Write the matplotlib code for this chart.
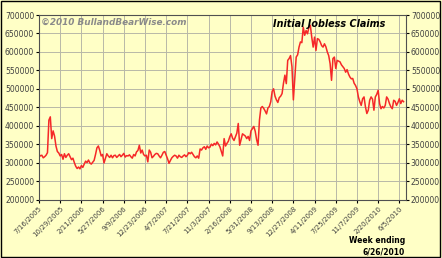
import matplotlib
matplotlib.use("Agg")
import matplotlib.pyplot as plt
import numpy as np

# weekly initial claims, week ending 7/16/2005 .. 6/26/2010
claims = [
    322, 318, 320, 313, 316, 320, 327,
    415, 424, 365, 386, 372, 345, 330, 326,
    318, 322, 309, 324, 314, 320, 324, 316, 308, 312, 300,
    290, 284, 288, 283, 292, 287,
    296, 304, 300, 307, 299, 296, 301, 306,
    322, 340, 345, 333, 318, 322, 299,
    312, 324, 318, 314, 320, 313, 319,
    320, 314, 318, 322, 316, 320, 325, 315, 319,
    318, 321, 316, 312, 322, 318, 329, 333,
    347, 326, 334, 322, 318, 320, 302, 334, 328, 313,
    317, 322, 325, 324, 318, 313, 320, 328, 330, 320,
    310, 298, 306, 313, 317, 320, 318, 312, 320, 316,
    314, 318, 321, 316, 320, 327, 324, 328, 322, 316,
    313, 318, 312, 337, 334, 340, 343, 336, 345, 340,
    342, 350, 346, 352, 348, 356, 350, 343, 330, 318,
    365, 345, 352, 358, 370, 378, 366, 360, 370, 380,
    406, 347, 362, 378, 375, 372, 365, 371, 360, 386,
    392, 398, 385, 362, 347, 415, 448, 452, 447, 440,
    432, 448, 452, 465, 493, 500, 480, 470, 463, 476,
    480, 487, 515, 537, 514, 577, 582, 590, 560, 470,
    530, 586, 592, 613, 627, 625, 667, 645, 658, 649,
    667, 672, 640, 613, 640, 604, 636, 634, 627, 617,
    613, 622, 614, 600, 590, 568, 523, 582, 586, 555,
    577, 575, 573, 565, 560, 555, 545, 552, 540, 532,
    527, 528, 515, 509, 500, 478, 465, 455, 473, 478,
    451, 433, 442, 469, 478, 472, 442, 478, 485, 496,
    460, 446, 452, 448, 455, 478, 472, 460, 451, 446,
    469, 466, 455, 463, 473, 460, 469, 465,
]
tick_labels = ["7/16/2005", "10/29/2005", "2/11/2006", "5/27/2006", "9/9/2006",
               "12/23/2006", "4/7/2007", "7/21/2007", "11/3/2007", "2/16/2008",
               "5/31/2008", "9/13/2008", "12/27/2008", "4/11/2009", "7/25/2009",
               "11/7/2009", "2/20/2010", "6/5/2010"]
tick_every = 15

bg = "#FFFFC6"
fig = plt.figure(figsize=(4.42, 2.58), dpi=100, facecolor=bg)
ax = fig.add_axes([39/442, 1 - 199.5/258, 367/442, 184.5/258])
ax.set_facecolor(bg)

weeks = np.arange(len(claims))
vals = np.array(claims) * 1000
ax.plot(weeks, vals, color="#F52828", lw=1.1)

ax.set_xlim(0, 259.7)
ax.set_ylim(200000, 700000)
ax.set_yticks(np.arange(200000, 700001, 50000))
ax.set_xticks(np.arange(len(tick_labels)) * tick_every)
ax.set_xticklabels(tick_labels, rotation=45, ha="right", rotation_mode="anchor",
                   fontsize=5, color="#404040")
ax.tick_params(axis="y", labelsize=5.5, labelcolor="#404040", length=2.5, pad=1,
               right=True, labelright=True)
ax.tick_params(axis="x", length=2.5, pad=1.5)
ax.grid(True, color="#B8B8A8", lw=0.7)
for s in ax.spines.values():
    s.set_color("#505050")
    s.set_linewidth(0.8)

ax.text(0.005, 0.985, "\u00a92010 BullandBearWise.com", transform=ax.transAxes,
        fontsize=6.4, fontweight="bold", style="italic", color="#8A8A8A",
        ha="left", va="top")
ax.text(0.943, 0.98, "Initial Jobless Claims", transform=ax.transAxes,
        fontsize=6.9, fontweight="bold", style="italic", color="black",
        ha="right", va="top")
fig.text(405/442, 1 - 236/258, "Week ending\n6/26/2010", fontsize=5.5,
         fontweight="bold", ha="right", va="top", linespacing=1.3)

# outer border
fig.patches.append(plt.Rectangle((0.002, 0.004), 0.994, 0.994, transform=fig.transFigure,
                                 fill=False, edgecolor="black", lw=1.0))

fig.savefig("out.png", dpi=100, facecolor=bg)
